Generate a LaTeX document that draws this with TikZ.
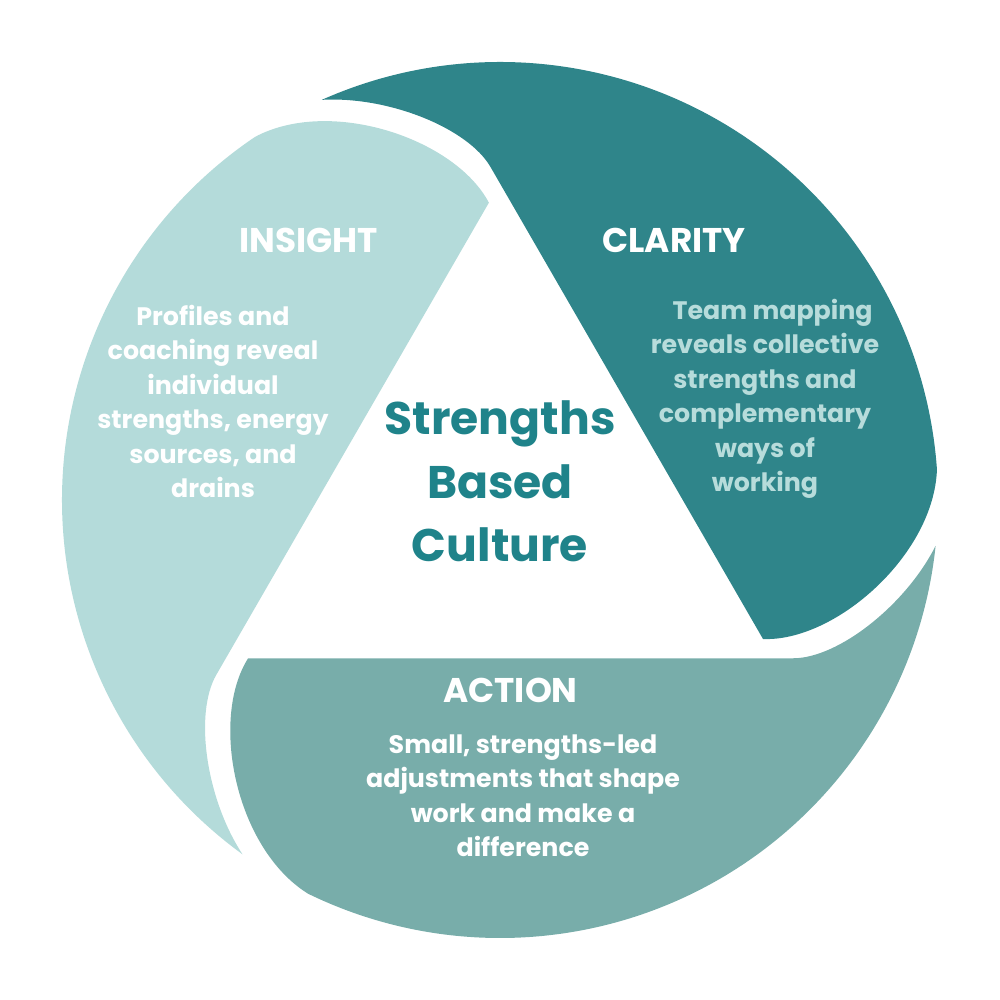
\documentclass[tikz,border=0pt]{standalone}
\usepackage{fontspec}
\setmainfont{Poppins}
\definecolor{lightseg}{HTML}{B4DBDA}
\definecolor{darkseg}{HTML}{2F858A}
\definecolor{midseg}{HTML}{78ADAA}
\definecolor{titlec}{HTML}{1F838A}
\definecolor{clarbody}{HTML}{B7DCDB}
\begin{document}
\begin{tikzpicture}[
  head/.style={font=\fontsize{9.75}{11}\selectfont\bfseries, text=white, inner sep=0pt, anchor=base},
  body/.style={font=\fontsize{7.2}{9.81}\selectfont\bfseries, align=center, inner sep=0pt, anchor=base},
  maintitle/.style={font=\fontsize{13.0}{18.07}\selectfont\bfseries, text=titlec, align=center, inner sep=0pt, anchor=base}
]
\useasboundingbox (-5,-5) rectangle (5,5);
% CLARITY segment (dark)
\fill[darkseg] (114:4.38) arc[start angle=114, end angle=4, radius=4.38]
  .. controls (4.34,-0.55) and (3.35,-1.42) .. (2.63,-1.39)
  -- (-0.095,3.33)
  .. controls (-0.32,3.72) and (-1.12,4.04) .. cycle;
% ACTION segment (medium)
\begin{scope}[rotate=-120]
\fill[midseg] (114:4.38) arc[start angle=114, end angle=4, radius=4.38]
  .. controls (4.34,-0.55) and (3.35,-1.42) .. (2.63,-1.39)
  -- (-0.095,3.33)
  .. controls (-0.32,3.72) and (-1.12,4.04) .. cycle;
\end{scope}
% INSIGHT segment (light)
\begin{scope}[rotate=120]
\fill[lightseg] (114:4.38) arc[start angle=114, end angle=4, radius=4.38]
  .. controls (4.34,-0.55) and (3.35,-1.42) .. (2.63,-1.39)
  -- (-0.095,3.33)
  .. controls (-0.32,3.72) and (-1.12,4.04) .. cycle;
\end{scope}
% headings
\node[head] (insight) at (-1.91,2.47) {INSIGHT};
\node[head] (clarity) at (1.74,2.47) {CLARITY};
\node[head] (action) at (0.105,-2.02) {ACTION};
% bodies (anchor base = baseline of last line)
\node[body, text=white] (insightbody) at (-2.87,0.025) {Profiles and\\coaching reveal\\individual\\strengths, energy\\sources, and\\drains};
\node[body, text=clarbody] (claritybody) at (2.65,0.085) {\hspace*{0.6em}Team mapping\\reveals collective\\strengths and\\complementary\\ways of\\working};
\node[body, text=white] (actionbody) at (0.23,-3.565) {Small, strengths-led\\adjustments that shape\\work and make a\\difference};
% centre
\node[maintitle] (centre) at (0,-0.62) {Strengths\\Based\\Culture};
\end{tikzpicture}
\end{document}
